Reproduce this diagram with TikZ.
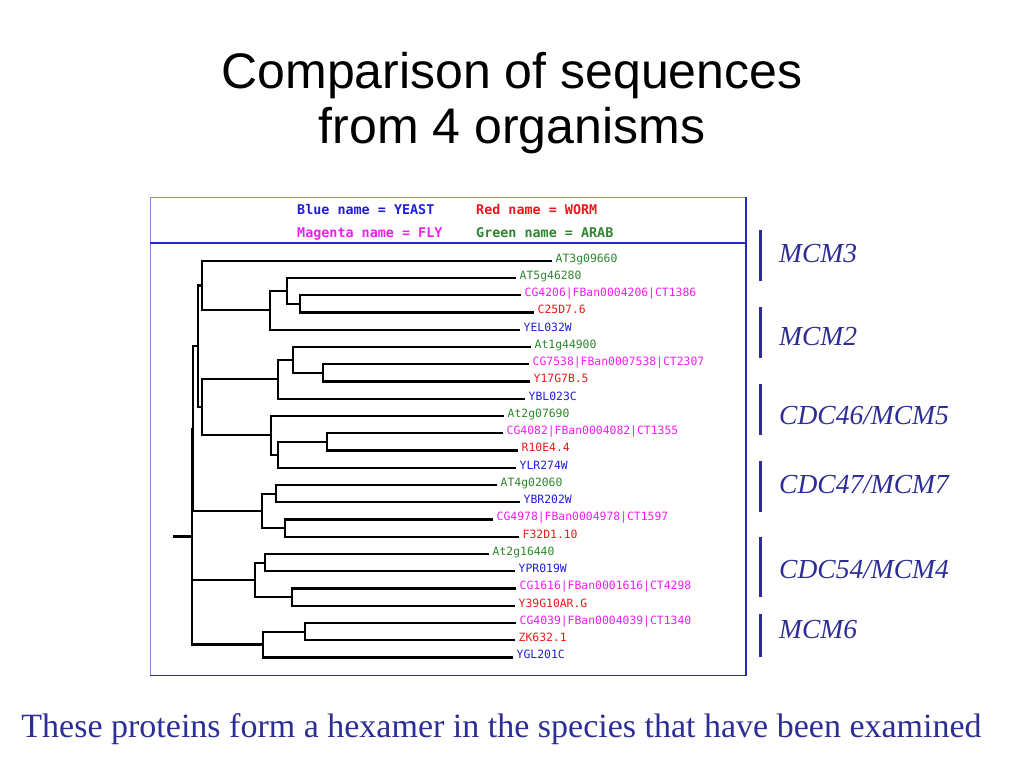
\documentclass[tikz,border=0pt]{standalone}
\usepackage{fontspec}
\setmainfont{Liberation Serif}
\newfontfamily\arialfont{Liberation Sans}
\newfontfamily\monofont{DejaVu Sans Mono}
\definecolor{yeast}{RGB}{30,30,215}
\definecolor{worm}{RGB}{235,25,25}
\definecolor{fly}{RGB}{240,30,240}
\definecolor{arab}{RGB}{45,135,45}
\definecolor{boxlight}{RGB}{135,135,225}
\definecolor{boxblue}{RGB}{40,40,200}
\definecolor{mcmblue}{RGB}{45,45,150}
\begin{document}
\begin{tikzpicture}[x=1pt,y=-1pt,
  tree/.style={line width=2.1pt, line join=miter},
  leaf/.style={anchor=base west, inner sep=0pt, font=\monofont\fontsize{11.4}{13}\selectfont},
  legend/.style={anchor=base west, inner sep=0pt, font=\monofont\bfseries\fontsize{13.4}{16}\selectfont},
  mcm/.style={anchor=base west, inner sep=0pt, text=mcmblue, font=\itshape\fontsize{27.5}{33}\selectfont},
  bar/.style={draw=mcmblue, line width=3pt}]
\useasboundingbox (0,0) rectangle (1024,768);

% title
\node[anchor=base, inner sep=0pt, font=\arialfont\fontsize{50}{60}\selectfont] (title1) at (512,88) {Comparison of sequences};
\node[anchor=base, inner sep=0pt, font=\arialfont\fontsize{50}{60}\selectfont] (title2) at (512,143) {from 4 organisms};

% box
\draw[boxlight, line width=1pt] (746,197) -- (150,197) -- (150,675.5);
\draw[boxblue, line width=1.5pt] (746,197) -- (746,675.5) -- (150,675.5);
\draw[boxblue, line width=2pt] (150,243.3) -- (746,243.3);

% legend
\node[legend, text=yeast] (lgY) at (297,214) {Blue name = YEAST};
\node[legend, text=worm] (lgW) at (476,214) {Red name = WORM};
\node[legend, text=fly] (lgF) at (297,237) {Magenta name = FLY};
\node[legend, text=arab] (lgA) at (476,237) {Green name = ARAB};

% leaves
\foreach \i/\ex/\lab/\col in {
  1/552/AT3g09660/arab, 2/516/AT5g46280/arab, 3/521/CG4206|FBan0004206|CT1386/fly,
  4/534/C25D7.6/worm, 5/520/YEL032W/yeast, 6/531/At1g44900/arab,
  7/529/CG7538|FBan0007538|CT2307/fly, 8/530/Y17G7B.5/worm, 9/525/YBL023C/yeast,
  10/504/At2g07690/arab, 11/503/CG4082|FBan0004082|CT1355/fly, 12/518/R10E4.4/worm,
  13/516/YLR274W/yeast, 14/497/AT4g02060/arab, 15/520/YBR202W/yeast,
  16/493/CG4978|FBan0004978|CT1597/fly, 17/519/F32D1.10/worm, 18/489/At2g16440/arab,
  19/515/YPR019W/yeast, 20/516/CG1616|FBan0001616|CT4298/fly, 21/515/Y39G10AR.G/worm,
  22/516/CG4039|FBan0004039|CT1340/fly, 23/515/ZK632.1/worm, 24/513/YGL201C/yeast}{
  \coordinate (l\i) at (\ex,{260.7+17.25*(\i-1)});
  \node[leaf, text=\col] (t\i) at ([shift={(3.5,1.5)}]l\i) {\lab};
}

% internal nodes
\coordinate (n34) at (300,303.8);
\coordinate (n234) at (287,290.9);
\coordinate (n2345) at (270,310.3);
\coordinate (nM3) at (202,285.5);
\coordinate (n78) at (323,372.8);
\coordinate (n678) at (293.3,359.9);
\coordinate (nM2) at (278.3,379.3);
\coordinate (n1112) at (326.7,441.8);
\coordinate (n1113) at (278.3,454.8);
\coordinate (nM5) at (271,435.4);
\coordinate (n25) at (201.7,407.3);
\coordinate (n325) at (197.7,346.4);
\coordinate (n1415) at (276,493.6);
\coordinate (n1617) at (285,528.1);
\coordinate (nM7) at (261.7,510.8);
\coordinate (nA) at (193.3,428.6);
\coordinate (n1819) at (265,562.6);
\coordinate (n2021) at (292.3,597.1);
\coordinate (nM4) at (255,579.8);
\coordinate (n2223) at (305,631.6);
\coordinate (nM6) at (263.3,644.5);
\coordinate (root) at (191.7,536.5);
\coordinate (rootstub) at (173,536.5);

\draw[tree] (n34) |- (l3) (n34) |- (l4);
\draw[tree] (n234) |- (l2) (n234) |- (n34);
\draw[tree] (n2345) |- (n234) (n2345) |- (l5);
\draw[tree] (nM3) |- (l1) (nM3) |- (n2345);
\draw[tree] (n78) |- (l7) (n78) |- (l8);
\draw[tree] (n678) |- (l6) (n678) |- (n78);
\draw[tree] (nM2) |- (n678) (nM2) |- (l9);
\draw[tree] (n1112) |- (l11) (n1112) |- (l12);
\draw[tree] (n1113) |- (n1112) (n1113) |- (l13);
\draw[tree] (nM5) |- (l10) (nM5) |- (n1113);
\draw[tree] (n25) |- (nM2) (n25) |- (nM5);
\draw[tree] (n325) |- (nM3) (n325) |- (n25);
\draw[tree] (n1415) |- (l14) (n1415) |- (l15);
\draw[tree] (n1617) |- (l16) (n1617) |- (l17);
\draw[tree] (nM7) |- (n1415) (nM7) |- (n1617);
\draw[tree] (nA) |- (n325) (nA) |- (nM7);
\draw[tree] (n1819) |- (l18) (n1819) |- (l19);
\draw[tree] (n2021) |- (l20) (n2021) |- (l21);
\draw[tree] (nM4) |- (n1819) (nM4) |- (n2021);
\draw[tree] (n2223) |- (l22) (n2223) |- (l23);
\draw[tree] (nM6) |- (n2223) (nM6) |- (l24);
\draw[tree] (root) |- (nA) (root) |- (nM4) (root) |- (nM6);
\draw[tree] (rootstub) -- (root);

% clade bars and labels
\draw[bar] (760,230) -- (760,281);
\draw[bar] (760,306.7) -- (760,358.3);
\draw[bar] (760,384.3) -- (760,435);
\draw[bar] (760,460.7) -- (760,511.7);
\draw[bar] (760,537.3) -- (760,596.7);
\draw[bar] (760,614) -- (760,656.7);
\node[mcm] (c1) at (779,262) {MCM3};
\node[mcm] (c2) at (779,345) {MCM2};
\node[mcm] (c3) at (779,424) {CDC46/MCM5};
\node[mcm] (c4) at (779,493) {CDC47/MCM7};
\node[mcm] (c5) at (779,578) {CDC54/MCM4};
\node[mcm] (c6) at (779,638) {MCM6};

% bottom caption
\node[anchor=base, inner sep=0pt, text=mcmblue, font=\fontsize{34}{40}\selectfont] (caption) at (501.5,737) {These proteins form a hexamer in the species that have been examined};
\end{tikzpicture}
\end{document}
